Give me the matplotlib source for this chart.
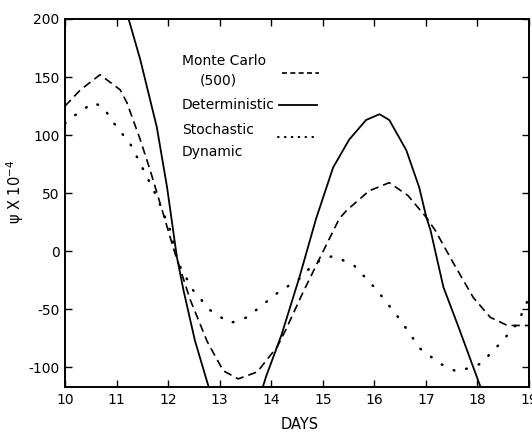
import numpy as np
import matplotlib
matplotlib.use("Agg")
import matplotlib.pyplot as plt

plt.rcParams["axes.unicode_minus"] = False

# values (psi x 1e-4 against days)
mc_days = [10.0, 10.3, 10.68, 11.07, 11.2, 11.46, 11.65, 11.9, 12.1, 12.43, 12.76, 13.07,
           13.36, 13.73, 14.12, 14.29, 14.6, 14.93, 15.32, 15.46, 15.9, 16.29, 16.65, 17.01,
           17.18, 17.53, 17.92, 18.25, 18.58, 19.0]
mc_psi = [125, 139, 152, 139, 128, 96, 70, 33, 3, -42, -78, -103,
          -110, -104, -82, -67, -37, -7, 28, 35, 52, 59, 48, 29,
          18, -10, -40, -57, -64, -64]

det_days = [11.1, 11.24, 11.46, 11.78, 11.98, 12.17, 12.3, 12.52, 12.78, 13.3, 13.83,
            13.9, 14.2, 14.55, 14.87, 15.2, 15.51, 15.84, 16.1, 16.29, 16.62, 16.87,
            17.01, 17.09, 17.34, 17.63, 18.06, 18.3]
det_psi = [226, 199, 165, 107, 55, -5, -34, -77, -116, -180, -118,
           -108, -72, -22, 28, 72, 96, 113, 118, 113, 87, 55,
           29, 18, -31, -65, -117, -150]

sto_days = [10.0, 10.06, 10.55, 10.74, 11.0, 11.26, 11.5, 11.78, 12.04, 12.19, 12.49,
            12.82, 13.2, 13.53, 14.12, 14.54, 14.85, 15.2, 15.6, 16.04, 16.5, 16.89,
            17.28, 17.61, 18.06, 18.45, 18.78, 19.0]
sto_psi = [110, 113, 128, 124, 107, 93, 72, 47, 18, -10, -34,
           -51, -62, -57, -36, -24, -10, -4, -12, -33, -59, -84,
           -97, -104, -97, -79, -62, -40]

xticks = list(range(10, 20))
yticks = [-100, -50, 0, 50, 100, 150, 200]

fig = plt.figure(figsize=(5.32, 4.38), dpi=100)
ax = fig.add_axes([65 / 532, 1 - 387 / 438, 464 / 532, 368 / 438])

ax.plot(mc_days, mc_psi, color="k", lw=1.2, linestyle=(0, (5, 3)))
ax.plot(det_days, det_psi, color="k", lw=1.3)
ax.plot(sto_days, sto_psi, color="k", lw=1.8, linestyle=(0, (0.3, 5)), dash_capstyle="round")

ax.set_xlim(10, 19)
ax.set_ylim(-117, 200)
ax.set_xticks(xticks)
ax.set_yticks(yticks)
ax.tick_params(direction="in", top=True, right=True, length=5, width=1,
               labelsize=10, pad=4)
for s in ax.spines.values():
    s.set_linewidth(1.4)

ax.set_xlabel("DAYS", fontsize=10.5)
ax.xaxis.set_label_coords(0.505, -0.082)
ax.set_ylabel("ψ X 10$^{-4}$", fontsize=10.5)
ax.yaxis.set_label_coords(-0.085, 0.53)

# hand-drawn style key: text on the left, line sample on the right
fs = 10
ax.text(0.252, 0.886, "Monte Carlo", transform=ax.transAxes, fontsize=fs, va="center")
ax.text(0.29, 0.832, "(500)", transform=ax.transAxes, fontsize=fs, va="center")
ax.text(0.252, 0.766, "Deterministic", transform=ax.transAxes, fontsize=fs, va="center")
ax.text(0.252, 0.698, "Stochastic", transform=ax.transAxes, fontsize=fs, va="center")
ax.text(0.252, 0.639, "Dynamic", transform=ax.transAxes, fontsize=fs, va="center")
ax.plot([0.467, 0.548], [0.853, 0.853], transform=ax.transAxes, color="k", lw=1.2,
        linestyle=(0, (3, 2)))
ax.plot([0.462, 0.544], [0.766, 0.766], transform=ax.transAxes, color="k", lw=1.3)
ax.plot([0.46, 0.54], [0.679, 0.679], transform=ax.transAxes, color="k", lw=1.5,
        linestyle=(0, (0.3, 3)), dash_capstyle="round")

fig.savefig("out.png", dpi=100)
